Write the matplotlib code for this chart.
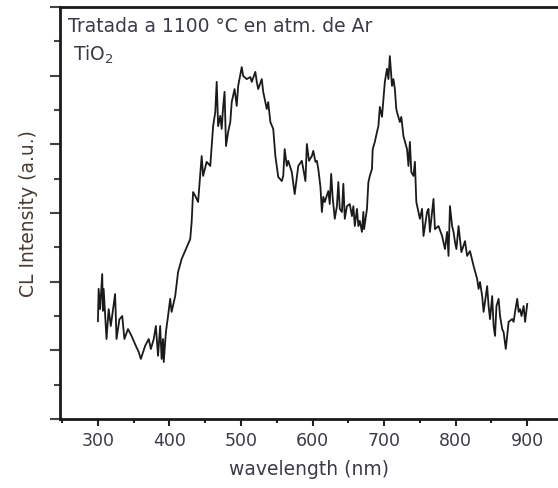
import matplotlib
matplotlib.use("Agg")
import matplotlib.pyplot as plt
from matplotlib.ticker import MultipleLocator, NullFormatter

wavelength = [300, 301, 303, 306, 307, 308, 312, 315, 318, 324, 326, 330, 334, 337, 342, 347,
              353, 357, 360, 366, 371, 374, 378, 381, 384, 387, 389, 391, 392, 395, 398, 401,
              403, 408, 412, 417, 423, 429, 431, 433, 436, 440, 445, 447, 452, 457, 459, 461,
              464, 466, 468, 471, 473, 475, 477, 479, 482, 485, 487, 491, 494, 496, 501, 503,
              508, 513, 515, 520, 522, 524, 529, 531, 536, 538, 541, 545, 548, 552, 557, 559,
              561, 564, 566, 571, 575, 580, 585, 587, 590, 592, 595, 599, 601, 604, 606, 608,
              611, 613, 615, 617, 622, 624, 626, 628, 631, 634, 636, 638, 641, 643, 645, 648,
              652, 655, 657, 659, 662, 664, 666, 669, 671, 672, 676, 678, 680, 683, 684, 687,
              690, 692, 694, 697, 699, 701, 704, 706, 708, 711, 713, 715, 717, 718, 722, 724,
              727, 732, 734, 736, 738, 741, 743, 745, 747, 750, 753, 755, 760, 762, 764, 769,
              771, 776, 781, 785, 788, 790, 792, 795, 797, 799, 801, 804, 808, 813, 816, 820,
              825, 830, 832, 834, 837, 839, 844, 846, 848, 851, 853, 855, 857, 860, 862, 865,
              867, 870, 874, 879, 881, 883, 886, 888, 890, 892, 895, 897, 900]

intensity = [2.85, 3.79, 3.20, 4.22, 3.15, 3.79, 2.33, 3.20, 2.71, 3.64, 2.33, 2.90, 3.00, 2.33, 2.62, 2.42,
             2.13, 1.95, 1.75, 2.13, 2.33, 2.04, 2.33, 2.71, 1.84, 2.71, 1.75, 2.33, 1.66, 2.53, 3.00, 3.50,
             3.12, 3.58, 4.28, 4.66, 4.95, 5.24, 5.74, 6.61, 6.50, 6.32, 7.66, 7.08, 7.49, 7.37, 7.95, 8.53,
             8.94, 9.82, 8.53, 8.83, 8.45, 9.09, 9.53, 7.95, 8.36, 8.65, 9.23, 9.61, 9.12, 9.70, 10.25, 9.99,
             9.90, 9.96, 9.82, 10.11, 9.82, 9.61, 9.90, 9.53, 9.03, 9.23, 8.65, 8.45, 7.66, 7.05, 6.93, 7.08,
             7.86, 7.37, 7.52, 7.19, 6.55, 7.37, 7.52, 7.28, 6.93, 8.01, 7.52, 7.66, 7.81, 7.49, 7.52, 7.28,
             6.76, 6.03, 6.47, 6.32, 6.64, 6.26, 7.14, 6.47, 5.83, 6.20, 6.90, 6.12, 6.03, 6.85, 5.83, 6.20,
             6.26, 5.91, 6.20, 5.62, 6.12, 5.62, 5.77, 5.45, 6.03, 5.53, 6.12, 6.90, 7.08, 7.28, 7.86, 8.07,
             8.36, 8.53, 9.09, 8.80, 9.32, 9.82, 10.20, 9.90, 10.57, 9.70, 9.90, 9.61, 9.03, 8.94, 8.65, 8.80,
             8.24, 7.86, 7.37, 8.07, 7.19, 7.08, 7.49, 6.32, 6.12, 5.83, 6.12, 5.33, 6.03, 6.12, 5.45, 6.41,
             5.53, 5.62, 5.33, 4.95, 5.45, 4.75, 6.20, 5.62, 5.45, 5.16, 4.95, 5.62, 4.86, 5.18, 4.75, 4.89,
             4.46, 4.08, 3.79, 3.99, 3.58, 3.12, 3.87, 3.29, 2.91, 3.58, 2.71, 2.42, 3.29, 3.50, 3.00, 2.62,
             2.53, 2.04, 2.83, 2.91, 2.83, 3.12, 3.50, 3.12, 3.20, 3.00, 3.29, 2.83, 3.35]

x_ticks = [300, 400, 500, 600, 700, 800, 900]
title_text = "Tratada a 1100 °C en atm. de Ar"
sample_text = "TiO$_2$"
x_label = "wavelength (nm)"
y_label = "CL Intensity (a.u.)"

text_color = "#3a3a48"
plt.rcParams['font.family'] = ['DejaVu Sans']
plt.rcParams['mathtext.fontset'] = 'dejavusans'

fig = plt.figure(figsize=(5.58, 4.89), dpi=100)
ax = fig.add_axes([60 / 558, 1 - 420 / 489, 1 - 60 / 558, (420 - 8) / 489])

ax.plot(wavelength, intensity, color="#1a1a1a", linewidth=1.3)

ax.set_xlim(247, 943)
ax.set_ylim(0, 12)

ax.set_xticks(x_ticks)
ax.set_xticklabels([str(t) for t in x_ticks])
ax.xaxis.set_minor_locator(MultipleLocator(50))
ax.yaxis.set_major_locator(MultipleLocator(2))
ax.yaxis.set_minor_locator(MultipleLocator(1))
ax.yaxis.set_major_formatter(NullFormatter())

ax.tick_params(axis='x', which='major', direction='out', length=5, width=1.5,
               labelsize=12.5, labelcolor=text_color, color="#222222", pad=4)
ax.tick_params(axis='x', which='minor', direction='out', length=3, width=1.5, color="#222222")
ax.tick_params(axis='y', which='major', direction='out', length=7, width=1.5, color="#444444")
ax.tick_params(axis='y', which='minor', direction='out', length=4, width=1.5, color="#444444")

for side in ['left', 'bottom', 'top']:
    ax.spines[side].set_linewidth(2)
    ax.spines[side].set_color("#1a1a1a")
ax.spines['right'].set_visible(False)

ax.set_xlabel(x_label, fontsize=13.5, color=text_color, labelpad=7)
ax.set_ylabel(y_label, fontsize=13.5, color="#4a3a30", labelpad=5)

ax.text(68 / 558, 1 - 27 / 489, title_text, transform=fig.transFigure,
        fontsize=13.5, color=text_color, va='center', ha='left')
ax.text(73 / 558, 1 - 55 / 489, sample_text, transform=fig.transFigure,
        fontsize=13.5, color=text_color, va='center', ha='left')

fig.savefig("out.png", dpi=100)
